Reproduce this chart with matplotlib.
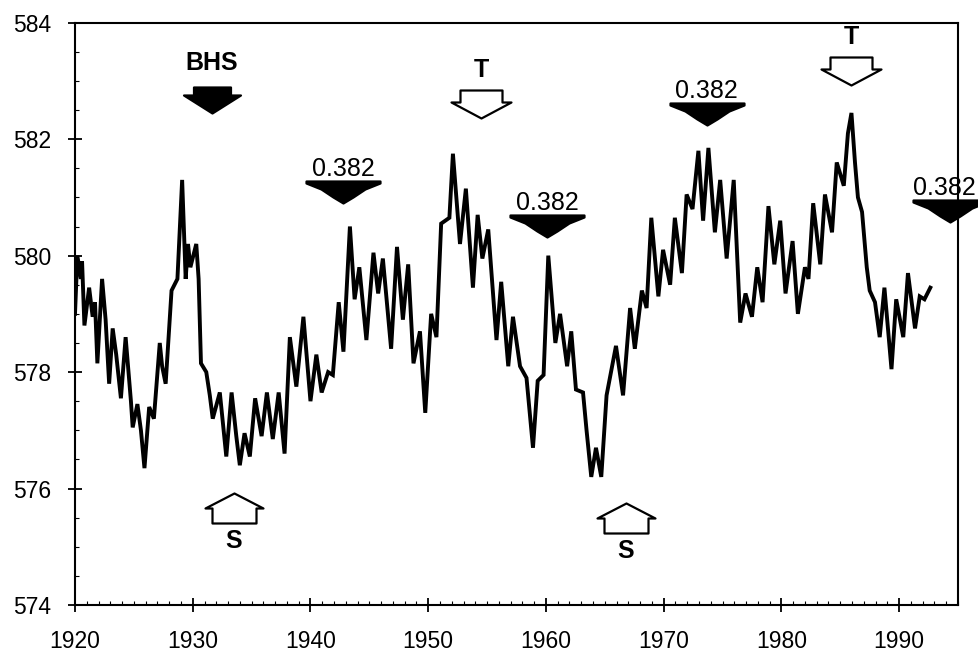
import numpy as np
import matplotlib.pyplot as plt
from matplotlib.path import Path
from matplotlib.ticker import MultipleLocator

DPI = 100
plt.rcParams['font.family'] = ['Liberation Sans', 'DejaVu Sans']

# Water level readings (seasonal highs / lows)
years_1920s = [1920.0, 1920.2, 1920.5, 1920.6, 1920.8, 1921.2, 1921.5, 1921.7, 1921.9,
               1922.3, 1922.6, 1922.9, 1923.2, 1923.5, 1923.9, 1924.3, 1924.75, 1924.9,
               1925.3, 1925.6, 1925.9, 1926.3, 1926.7, 1927.2, 1927.4, 1927.7, 1928.2,
               1928.7, 1929.1, 1929.4, 1929.6, 1929.8]
levels_1920s = [579.0, 580.0, 579.6, 579.9, 578.8, 579.45, 578.95, 579.2, 578.15,
                579.6, 578.9, 577.8, 578.75, 578.3, 577.55, 578.6, 577.5, 577.05,
                577.45, 577.0, 576.35, 577.4, 577.2, 578.5, 578.1, 577.8, 579.4,
                579.6, 581.3, 579.6, 580.2, 579.8]

years_1930s = [1930.3, 1930.5, 1930.7, 1931.15, 1931.45, 1931.7, 1932.3, 1932.85, 1933.3,
               1933.7, 1934.0, 1934.4, 1934.85, 1935.3, 1935.85, 1936.3, 1936.8, 1937.3,
               1937.8, 1938.25, 1938.8, 1939.4]
levels_1930s = [580.2, 579.6, 578.15, 578.0, 577.6, 577.2, 577.65, 576.55, 577.65,
                576.9, 576.4, 576.95, 576.55, 577.55, 576.9, 577.65, 576.85, 577.65,
                576.6, 578.6, 577.75, 578.95]

years_1940s = [1940.0, 1940.5, 1940.95, 1941.5, 1941.9, 1942.4, 1942.8, 1943.35, 1943.75,
               1944.15, 1944.75, 1945.35, 1945.75, 1946.15, 1946.85, 1947.35, 1947.85,
               1948.3, 1948.75, 1949.3, 1949.75]
levels_1940s = [577.5, 578.3, 577.65, 578.0, 577.95, 579.2, 578.35, 580.5, 579.25,
                579.8, 578.55, 580.05, 579.35, 579.95, 578.4, 580.15, 578.9,
                579.85, 578.15, 578.7, 577.3]

years_1950s = [1950.25, 1950.7, 1951.1, 1951.8, 1952.1, 1952.7, 1953.2, 1953.8, 1954.2,
               1954.6, 1955.1, 1955.8, 1956.2, 1956.8, 1957.2, 1957.8, 1958.35, 1958.9,
               1959.3, 1959.8]
levels_1950s = [579.0, 578.6, 580.55, 580.65, 581.75, 580.2, 581.15, 579.45, 580.7,
                579.95, 580.45, 578.55, 579.55, 578.1, 578.95, 578.1, 577.9, 576.7,
                577.85, 577.95]

years_1960s = [1960.2, 1960.8, 1961.2, 1961.8, 1962.15, 1962.55, 1963.15, 1963.45, 1963.85,
               1964.25, 1964.7, 1965.15, 1965.95, 1966.55, 1967.15, 1967.55, 1968.15,
               1968.55, 1968.95, 1969.55, 1969.95]
levels_1960s = [580.0, 578.5, 579.0, 578.1, 578.7, 577.7, 577.65, 577.0, 576.2,
                576.7, 576.2, 577.6, 578.45, 577.6, 579.1, 578.4, 579.4,
                579.1, 580.65, 579.3, 580.1]

years_1970s = [1970.55, 1970.95, 1971.55, 1971.95, 1972.45, 1972.95, 1973.35, 1973.8,
               1974.35, 1974.8, 1975.35, 1975.95, 1976.5, 1976.95, 1977.5, 1977.95,
               1978.4, 1978.9, 1979.4, 1979.9]
levels_1970s = [579.5, 580.65, 579.7, 581.05, 580.8, 581.8, 580.6, 581.85,
                580.4, 581.3, 579.95, 581.3, 578.85, 579.35, 578.95, 579.8,
                579.2, 580.85, 579.85, 580.6]

years_1980s = [1980.35, 1980.95, 1981.4, 1982.0, 1982.3, 1982.7, 1983.3, 1983.7, 1984.3,
               1984.7, 1985.3, 1985.65, 1985.95, 1986.25, 1986.5, 1986.85, 1987.25,
               1987.5, 1987.95, 1988.35, 1988.75, 1989.35, 1989.75]
levels_1980s = [579.35, 580.25, 579.0, 579.8, 579.6, 580.9, 579.85, 581.05, 580.4,
                581.6, 581.2, 582.1, 582.45, 581.6, 581.0, 580.75, 579.8,
                579.4, 579.2, 578.6, 579.45, 578.05, 579.25]

years_1990s = [1990.35, 1990.75, 1991.35, 1991.75, 1992.15, 1992.65]
levels_1990s = [578.6, 579.7, 578.75, 579.3, 579.25, 579.45]

# Signals drawn on the chart (anchor = arrow tip / roof apex)
signal_kinds = ['bhs', 'fib', 'top', 'fib', 'fib', 'top', 'fib', 'support', 'support']
signal_labels = ['BHS', '0.382', 'T', '0.382', '0.382', 'T', '0.382', 'S', 'S']
signal_years = [1931.6, 1942.8, 1954.5, 1960.1, 1973.65, 1985.95, 1994.3, 1933.5, 1966.8]
signal_levels = [582.45, 580.9, 582.36, 580.32, 582.24, 582.93, 580.58, 575.92, 575.75]

x_ticks = [1920, 1930, 1940, 1950, 1960, 1970, 1980, 1990]
y_ticks = [574, 576, 578, 580, 582, 584]


def marker_from(verts):
    """Closed path marker; returns the path and the markersize (points) keeping pixel scale."""
    v = np.asarray(verts, dtype=float)
    v = np.vstack([v, v[:1]])
    codes = [Path.MOVETO] + [Path.LINETO] * (len(v) - 2) + [Path.CLOSEPOLY]
    size = 2 * np.abs(v).max() * 72 / DPI
    return Path(v, codes), size


# shapes in pixels, tip / apex at the origin
shapes = {
    'bhs': marker_from([(-18.5, 26), (18.5, 26), (18.5, 18), (28.5, 18), (0, 0),
                        (-28.5, 18), (-18.5, 18)]),
    'top': marker_from([(-21, 28), (21, 28), (21, 16), (30, 16), (0, 0),
                        (-30, 16), (-21, 16)]),
    'fib': marker_from([(-37, 22), (37, 22), (37, 20), (22, 14), (10, 6), (0, 0),
                        (-10, 6), (-22, 14), (-37, 20)]),
    'support': marker_from([(0, 0), (29, -15), (22, -15), (22, -30), (-22, -30),
                            (-22, -15), (-29, -15)]),
}
fills = {'bhs': 'black', 'top': 'white', 'fib': 'black', 'support': 'white'}
text_offset = {'bhs': 50, 'top': 48, 'fib': 34, 'support': -48}
text_weight = {'bhs': 'bold', 'top': 'bold', 'fib': 'normal', 'support': 'bold'}

years = years_1920s + years_1930s + years_1940s + years_1950s + years_1960s + years_1970s + years_1980s + years_1990s
levels = levels_1920s + levels_1930s + levels_1940s + levels_1950s + levels_1960s + levels_1970s + levels_1980s + levels_1990s

fig = plt.figure(figsize=(979 / DPI, 654 / DPI), dpi=DPI)
ax = fig.add_axes([75 / 979, 1 - 605 / 654, (958 - 75) / 979, (605 - 22.7) / 654])

ax.plot(years, levels, color='black', linewidth=2.8, solid_joinstyle='miter')

for kind, label, yr, lv in zip(signal_kinds, signal_labels, signal_years, signal_levels):
    path, ms = shapes[kind]
    ax.plot([yr], [lv], linestyle='none', marker=path, markersize=ms,
            markerfacecolor=fills[kind], markeredgecolor='black', markeredgewidth=1.6,
            clip_on=False, zorder=5)
    txt = ax.annotate(label, (yr, lv), xytext=(0, text_offset[kind] * 72 / DPI),
                      textcoords='offset points', ha='center', va='center',
                      fontsize=18, fontweight=text_weight[kind], annotation_clip=False)
    if yr > 1994:
        # last label sits at the figure edge: anchor its right side inside the canvas
        txt.set_ha('right')
        txt.set_position((26 * 72 / DPI, text_offset[kind] * 72 / DPI))

ax.set_xlim(1920, 1995)
ax.set_ylim(574, 584)
ax.set_xticks(x_ticks)
ax.set_yticks(y_ticks)
ax.xaxis.set_minor_locator(MultipleLocator(1))
ax.yaxis.set_minor_locator(MultipleLocator(0.5))
ax.tick_params(which='major', direction='inout', length=10, width=1.3, labelsize=16.5, pad=12)
ax.tick_params(which='minor', direction='in', length=3, width=0.8)
ax.tick_params(axis='x', which='major', pad=13)
for side in ax.spines.values():
    side.set_linewidth(1.5)

fig.savefig('out.png', dpi=DPI)
